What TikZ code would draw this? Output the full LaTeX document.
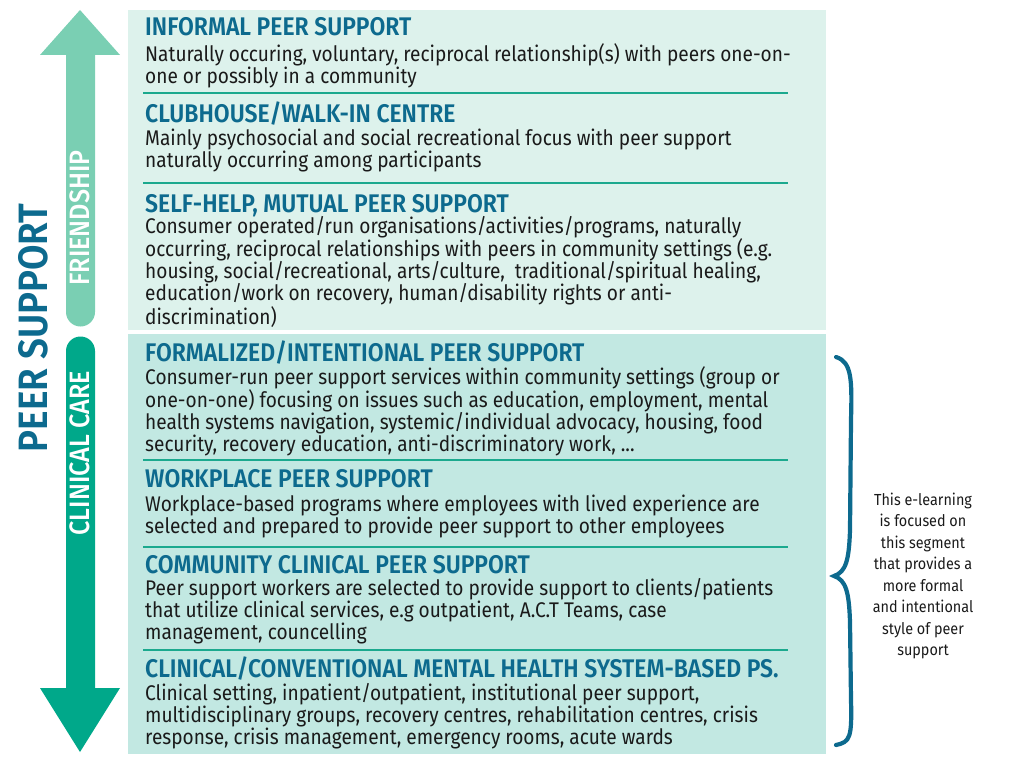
\documentclass[tikz,border=0pt]{standalone}
\usepackage{fontspec}
\setmainfont{Fira Sans}[FakeStretch=0.9]
\newfontfamily\titlefont{Fira Sans SemiBold}[FakeStretch=0.9]
\newfontfamily\medfont{Fira Sans Medium}[FakeStretch=0.9]
\definecolor{lightbg}{HTML}{DDF2EC}
\definecolor{darkbg}{HTML}{C2E8E2}
\definecolor{lightarr}{HTML}{7ACFB3}
\definecolor{darkarr}{HTML}{00A88A}
\definecolor{sepc}{HTML}{1BA98E}
\definecolor{blue}{HTML}{0D6A8E}
\definecolor{txt}{HTML}{1A1A1A}
\begin{document}
\begin{tikzpicture}[x=1pt,y=-1pt,
  ttl/.style={anchor=base west,inner sep=0,text=blue,font=\titlefont\fontsize{25.5}{28}\selectfont},
  bdy/.style={anchor=north west,inner sep=0,align=left,text=txt,font=\fontsize{21.2}{22}\selectfont},
  sep/.style={draw=sepc,line width=1.5pt},
  lbl/.style={rotate=90,text=white,font=\medfont\fontsize{28}{30}\selectfont}]
\useasboundingbox (0,0) rectangle (1024,768);
\fill[lightbg] (128,10) rectangle (826,330);
\fill[darkbg] (128,334) rectangle (826,754);
% arrows
\fill[lightarr] (80,10) -- (120,55) -- (95,55) -- (95,312) arc (0:180:14.5) -- (66,55) -- (40,55) -- cycle;
\fill[darkarr] (80,752) -- (120,688) -- (95,688) -- (95,351) arc (0:-180:14.5) -- (66,688) -- (40,688) -- cycle;
\node[lbl] (fr) at (80,218) {FRIENDSHIP};
\node[lbl] (cc) at (80,453) {CLINICAL CARE};
\node[rotate=90,text=blue,font=\titlefont\fontsize{41}{44}\selectfont] (ps) at (33,328) {PEER SUPPORT};
% separators
\foreach \yy in {93,183,460,547,650}{\draw[sep] (143,\yy) -- (788,\yy);}
% blocks
\node[ttl] (t1) at (145,36) {INFORMAL PEER SUPPORT};
\node[bdy] (b1) at (145,43) {Naturally occuring, voluntary, reciprocal relationship(s) with peers one-on-\\one or possibly in a community};
\node[ttl] (t2) at (145,122) {CLUBHOUSE/WALK-IN CENTRE};
\node[bdy] (b2) at (145,129) {Mainly psychosocial and social recreational focus with peer support\\naturally occurring among participants};
\node[ttl] (t3) at (145,212) {SELF-HELP, MUTUAL PEER SUPPORT};
\node[bdy] (b3) at (145,216) {Consumer operated/run organisations/activities/programs, naturally\\occurring, reciprocal relationships with peers in community settings (e.g.\\housing, social/recreational, arts/culture,\ \ traditional/spiritual healing,\\education/work on recovery, human/disability rights or anti-\\discrimination)};
\node[ttl] (t4) at (145,361) {FORMALIZED/INTENTIONAL PEER SUPPORT};
\node[bdy] (b4) at (145,366) {Consumer-run peer support services within community settings (group or\\one-on-one) focusing on issues such as education, employment, mental\\health systems navigation, systemic/individual advocacy, housing, food\\security, recovery education, anti-discriminatory work, ...};
\node[ttl] (t5) at (145,487) {WORKPLACE PEER SUPPORT};
\node[bdy] (b5) at (145,495) {Workplace-based programs where employees with lived experience are\\selected and prepared to provide peer support to other employees};
\node[ttl] (t6) at (145,573) {COMMUNITY CLINICAL PEER SUPPORT};
\node[bdy] (b6) at (145,578) {Peer support workers are selected to provide support to clients/patients\\that utilize clinical services, e.g outpatient, A.C.T Teams, case\\management, councelling};
\node[ttl] (t7) at (145,677) {CLINICAL/CONVENTIONAL MENTAL HEALTH SYSTEM-BASED PS.};
\node[bdy] (b7) at (145,683) {Clinical setting, inpatient/outpatient, institutional peer support,\\multidisciplinary groups, recovery centres, rehabilitation centres, crisis\\response, crisis management, emergency rooms, acute wards};
% brace
\draw[blue,line width=4.2pt,line cap=round] (836,357) .. controls (852,362) and (852,380) .. (851,420) -- (850,530) .. controls (849,560) and (846,572) .. (834,576) .. controls (846,580) and (849,592) .. (850,622) -- (851,700) .. controls (852,738) and (850,742) .. (836,745);
\node[align=center,text=txt,font=\fontsize{16}{21.5}\selectfont] (note) at (923,576) {This e-learning\\is focused on\\this segment\\that provides a\\more formal\\and intentional\\style of peer\\support};
\end{tikzpicture}
\end{document}
